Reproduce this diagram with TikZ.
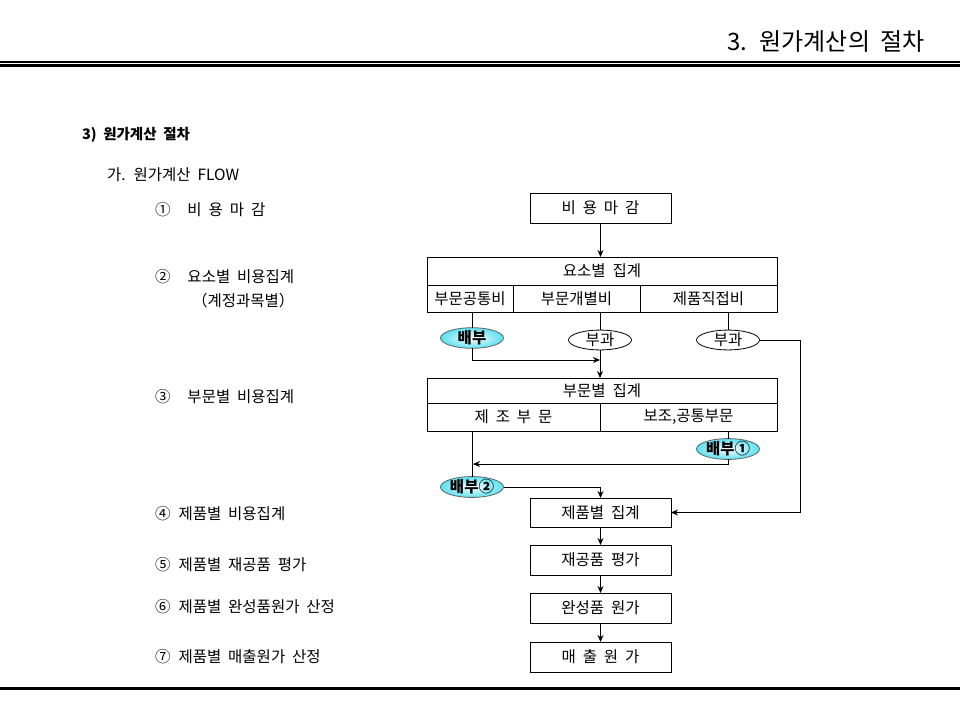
\documentclass[tikz,border=0pt]{standalone}
\usepackage{fontspec}
\setmainfont{Noto Sans CJK KR}[WordSpace=2]
\usetikzlibrary{shapes.geometric,arrows.meta}
\definecolor{cyanA}{RGB}{90,225,240}
\begin{document}
\begin{tikzpicture}[x=1pt,y=-1pt,
  every node/.style={font=\fontsize{15.5}{15.5}\selectfont, inner sep=0pt, outer sep=0pt},
  box/.style={draw, line width=1pt, minimum width=141pt, minimum height=30pt},
  cell/.style={draw, line width=1pt},
  oval/.style={ellipse, draw, line width=0.8pt, minimum width=63pt, minimum height=19pt},
  hot/.style={oval, draw=black!60, inner color=white, outer color=cyanA, font=\fontsize{15.5}{15.5}\selectfont\bfseries},
  arr/.style={line width=0.9pt, -{Stealth[length=7pt,width=6pt]}},
  ln/.style={line width=0.9pt},
  lbl/.style={anchor=west}]
\useasboundingbox (0,0) rectangle (960,720);
% header / footer rules
\draw[line width=1.5pt] (0,62) -- (960,62);
\draw[line width=3pt] (0,65.5) -- (960,65.5);
\draw[line width=3pt] (0,688.5) -- (960,688.5);
\node[anchor=east, font=\fontsize{24}{24}\selectfont] (title) at (925,42) {3. 원가계산의 절차};
% left texts
\node[lbl, font=\fontsize{14.5}{14.5}\selectfont\bfseries] (t0) at (82,135) {3) 원가계산 절차};
\node[lbl] (t1) at (107,175) {가. 원가계산 FLOW};
\node[lbl] (s1) at (155,210) {①\hspace{17pt}비 용 마 감};
\node[lbl] (s2) at (155,277) {②\hspace{17pt}요소별 비용집계};
\node[lbl] (s2b) at (192,301) {（계정과목별）};
\node[lbl] (s3) at (155,397) {③\hspace{17pt}부문별 비용집계};
\node[lbl] (s4) at (155,514) {④\hspace{8pt}제품별 비용집계};
\node[lbl] (s5) at (155,565) {⑤\hspace{8pt}제품별 재공품 평가};
\node[lbl] (s6) at (155,607) {⑥\hspace{8pt}제품별 완성품원가 산정};
\node[lbl] (s7) at (155,657) {⑦\hspace{8pt}제품별 매출원가 산정};
% flow boxes
\node[box] (mg) at (600.5,208) {비 용 마 감};
\node[cell, minimum width=350pt, minimum height=28pt] (yo) at (602,271) {요소별 집계};
\node[cell, minimum width=86pt, minimum height=27pt] (c1) at (470,298.5) {부문공통비};
\node[cell, minimum width=127pt, minimum height=27pt] (c2) at (576.5,298.5) {부문개별비};
\node[cell, minimum width=137pt, minimum height=27pt] (c3) at (708.5,298.5) {제품직접비};
\node[hot] (e1) at (472,338) {배부};
\node[oval] (e2) at (600,340) {부과};
\node[oval] (e3) at (728,340) {부과};
\node[cell, minimum width=350pt, minimum height=25pt] (bu) at (602,390.5) {부문별 집계};
\node[cell, minimum width=173pt, minimum height=28pt] (jo) at (513.5,417) {제 조 부 문};
\node[cell, minimum width=177pt, minimum height=28pt] (bo) at (688.5,417) {보조,공통부문};
\node[hot] (e5) at (728,449) {배부①};
\node[hot] (e4) at (472,487) {배부②};
\node[box, minimum height=29pt] (pr) at (600.5,512.5) {제품별 집계};
\node[box] (wp) at (600.5,560) {재공품 평가};
\node[box] (cp) at (600.5,608) {완성품 원가};
\node[box] (sa) at (600.5,657) {매 출 원 가};
\coordinate (j1) at (600,360);
\coordinate (m1) at (473,464);
% connectors
\draw[arr] (mg.south) -- (mg.south |- yo.north);
\draw[ln] (e1.north |- c1.south) -- (e1.north);
\draw[ln] (e2.north |- c2.south) -- (e2.north);
\draw[ln] (e3.north |- c3.south) -- (e3.north);
\draw[arr] (e1.south) |- (j1);
\draw[arr] (e2.south) -- (e2.south |- bu.north);
\draw[arr] (e3.east) -- ++(40.5,0) |- (pr.east);
\draw[ln] (e4.north |- jo.south) -- (e4.north);
\draw[ln] (e5.north |- bo.south) -- (e5.north);
\draw[arr] (e5.south) |- (m1);
\draw[arr] (e4.east) -| (pr.north);
\draw[arr] (pr.south) -- (wp.north);
\draw[arr] (wp.south) -- (cp.north);
\draw[arr] (cp.south) -- (sa.north);
\end{tikzpicture}
\end{document}
